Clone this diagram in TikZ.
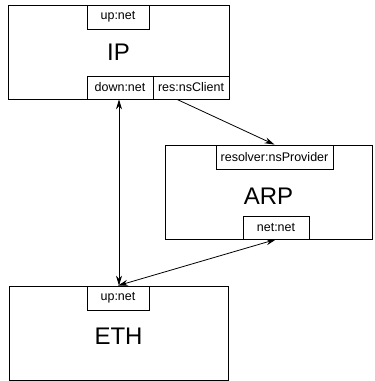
\documentclass[tikz,border=0pt]{standalone}
\usepackage{fontspec}
\setmainfont{Liberation Sans}
\usetikzlibrary{arrows.meta}
\tikzset{component/.style={draw,rectangle,inner sep=0pt,line width=0.8pt,
		font=\fontsize{24}{28}\selectfont},
	port/.style={draw,rectangle,inner sep=0pt,line width=0.8pt,
		font=\fontsize{12.5}{14}\selectfont}}

\begin{document}
\begin{tikzpicture}[x=1pt,y=-1pt]
		\useasboundingbox (0,0) rectangle (375,381);
		% components
		\node[component,minimum width=221pt,minimum height=94pt] (IP) at (118.5,52) {IP};
		\node[component,minimum width=207pt,minimum height=94pt,text height=25pt] (ARP) at (268.5,192) {ARP};
		\node[component,minimum width=219pt,minimum height=94pt,text height=23pt] (ETH) at (118.5,333) {ETH};
		% ports
		\begin{scope}[every node/.style={port}]
			\node[minimum width=62pt,minimum height=24pt] (IPup) at (118,17) {up:net};
			\node[minimum width=66pt,minimum height=23pt] (IPdown) at (120,87.5) {down:net};
			\node[minimum width=76pt,minimum height=23pt] (IPres) at (191,87.5) {res:nsClient};
			\node[minimum width=117pt,minimum height=24pt] (ARPresolver) at (274.5,157) {resolver:nsProvider};
			\node[minimum width=66pt,minimum height=23pt] (ARPnet) at (276,227.5) {net:net};
			\node[minimum width=62pt,minimum height=24pt] (ETHup) at (118,298) {up:net};
		\end{scope}
		% bindings
		\begin{scope}[>={Stealth[black,length=10pt,width=6pt]},
			every edge/.style={draw,line width=0.8pt}]
			\path [<->] ([xshift=-1pt]IPdown.south) edge ([xshift=1pt]ETHup.north);
			\path [->] ([xshift=-14pt]IPres.south) edge (ARPresolver.north);
			\path [<->] (ARPnet.south) edge (ETHup.north);
		\end{scope}
	\end{tikzpicture}
\end{document}
